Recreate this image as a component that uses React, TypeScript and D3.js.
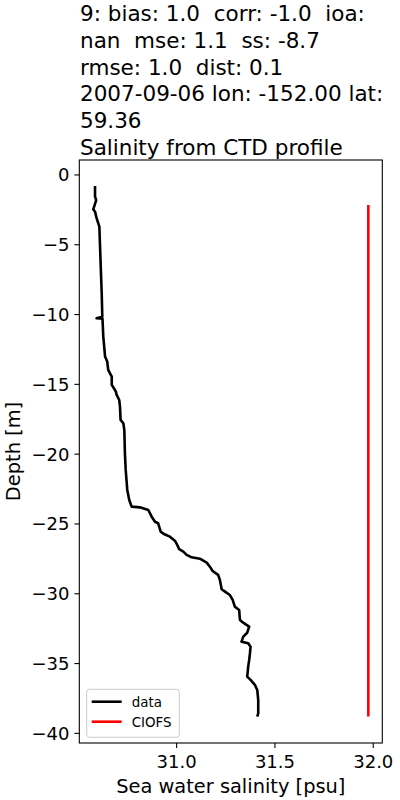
import * as d3 from "d3";

const titleLines = [
  "9: bias: 1.0  corr: -1.0  ioa:",
  "nan  mse: 1.1  ss: -8.7",
  "rmse: 1.0  dist: 0.1",
  "2007-09-06 lon: -152.00 lat:",
  "59.36",
  "Salinity from CTD profile",
];

// CTD profile (salinity psu, depth m)
const dataSalinity = [
  30.585, 30.585, 30.591, 30.576, 30.585, 30.593, 30.607, 30.61, 30.614, 30.619,
  30.622, 30.593, 30.623, 30.627, 30.636, 30.647, 30.652, 30.67, 30.67, 30.681,
  30.691, 30.695, 30.708, 30.712, 30.715, 30.729, 30.734, 30.737, 30.741, 30.749,
  30.759, 30.771, 30.813, 30.856, 30.873, 30.89, 30.906, 30.919, 30.935, 30.966,
  30.991, 31.003, 31.013, 31.034, 31.051, 31.076, 31.118, 31.153, 31.169, 31.183,
  31.211, 31.22, 31.229, 31.246, 31.271, 31.285, 31.296, 31.318, 31.322, 31.342,
  31.369, 31.359, 31.339, 31.33, 31.364, 31.376, 31.373, 31.369, 31.364, 31.359,
  31.376, 31.398, 31.41, 31.415, 31.415, 31.41,
];
const dataDepth = [
  -0.79, -1.55, -1.8, -2.46, -2.63, -3.1, -3.7, -4.9, -6.57, -8.47,
  -10.15, -10.27, -10.3, -11.58, -13.0, -13.37, -13.97, -14.45, -15.04, -15.28,
  -15.52, -15.76, -16.12, -16.6, -17.55, -17.79, -18.27, -19.94, -21.13, -22.56,
  -23.28, -23.76, -23.81, -24.0, -24.48, -24.84, -24.95, -25.55, -25.72, -25.91,
  -26.2, -26.5, -26.81, -26.98, -27.22, -27.39, -27.49, -27.77, -28.06, -28.37,
  -28.65, -29.01, -29.68, -29.85, -30.09, -30.44, -30.92, -31.16, -31.88, -32.11,
  -32.35, -32.79, -33.07, -33.43, -33.55, -33.79, -34.26, -34.74, -35.22, -35.94,
  -36.17, -36.53, -36.89, -37.61, -38.56, -38.8,
];

// CIOFS model
const modelSalinity = [31.975, 31.975, 31.975];
const modelDepth = [-2.15, -20.5, -38.8];

const xTicks = [31.0, 31.5, 32.0];
const yTicks = [0, -5, -10, -15, -20, -25, -30, -35, -40];

const legendItems = [
  { label: "data", color: "#000000" },
  { label: "CIOFS", color: "#ff0000" },
];

const font = "DejaVu Sans";

export default function App() {
  const left = 79.3;
  const right = 382.3;
  const top = 160;
  const bottom = 743;

  const x = d3.scaleLinear().domain([30.505, 32.046]).range([left, right]);
  const y = d3.scaleLinear().domain([1.07, -40.69]).range([top, bottom]);

  const line = d3
    .line<[number, number]>()
    .x((d) => x(d[0]))
    .y((d) => y(d[1]));

  const dataPts = dataSalinity.map((s, i) => [s, dataDepth[i]] as [number, number]);
  const modelPts = modelSalinity.map((s, i) => [s, modelDepth[i]] as [number, number]);

  const fmtMinus = (v: string) => v.replace("-", "\u2212");

  return (
    <svg
      width={400}
      height={800}
      style={{ position: "absolute", left: 0, top: 0, background: "#fff" }}
      fontFamily={font}
    >
      <rect x={0} y={0} width={400} height={800} fill="#fff" />

      {titleLines.map((t, i) => (
        <text key={i} x={80} y={21 + i * 26.8} fontSize={21.5} fill="#000" style={{ whiteSpace: "pre" }}>
          {t}
        </text>
      ))}

      <path d={line(dataPts) ?? ""} fill="none" stroke="#000" strokeWidth={2.6} strokeLinejoin="round" />
      <path d={line(modelPts) ?? ""} fill="none" stroke="#ff0000" strokeWidth={2.6} />

      <rect x={left} y={top} width={right - left} height={bottom - top} fill="none" stroke="#000" strokeWidth={1.1} />

      {xTicks.map((t) => (
        <g key={t} transform={`translate(${x(t)},${bottom})`}>
          <line y2={4.9} stroke="#000" strokeWidth={1.1} />
          <text y={25.3} textAnchor="middle" fontSize={18}>
            {d3.format(".1f")(t)}
          </text>
        </g>
      ))}

      {yTicks.map((t) => (
        <g key={t} transform={`translate(${left},${y(t)})`}>
          <line x2={-4.9} stroke="#000" strokeWidth={1.1} />
          <text x={-9.8} dy="0.36em" textAnchor="end" fontSize={18}>
            {fmtMinus(d3.format("d")(t))}
          </text>
        </g>
      ))}

      <text x={(left + right) / 2} y={792.5} textAnchor="middle" fontSize={19.4}>
        Sea water salinity [psu]
      </text>
      <text
        transform={`translate(19.5,${(top + bottom) / 2}) rotate(-90)`}
        textAnchor="middle"
        fontSize={19.4}
      >
        Depth [m]
      </text>

      <g>
        <rect x={86.7} y={689.3} width={92.6} height={48} rx={3} fill="#fff" fillOpacity={0.8} stroke="#cccccc" strokeWidth={1} />
        {legendItems.map((d, i) => (
          <g key={d.label} transform={`translate(0,${701.7 + i * 20})`}>
            <line x1={91.7} x2={121.7} stroke={d.color} strokeWidth={2.6} />
            <text x={131.7} dy="0.36em" fontSize={13.4}>
              {d.label}
            </text>
          </g>
        ))}
      </g>
    </svg>
  );
}
